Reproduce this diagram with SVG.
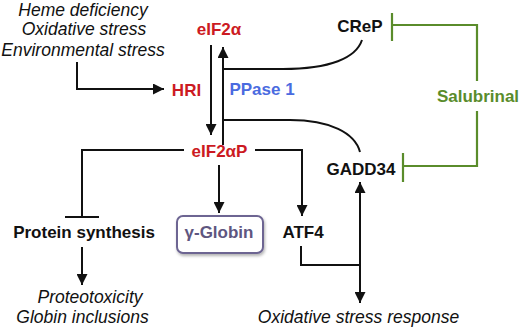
<svg xmlns="http://www.w3.org/2000/svg" width="520" height="328" viewBox="0 0 520 328">
<style>
.it{font-family:"Liberation Sans",Arial,sans-serif;font-style:italic;font-size:17.5px;fill:#111;text-anchor:middle}
.b{font-family:"Liberation Sans",Arial,sans-serif;font-weight:bold;font-size:17px;text-anchor:middle}
.red{fill:#cc1a22}
.blk{fill:#111}
.ln{fill:none;stroke:#111;stroke-width:2}
.gr{fill:none;stroke:#5a8c2b;stroke-width:2.2}
</style>
<defs>
<marker id="ah" viewBox="0 0 10 10" refX="10" refY="5" markerWidth="11" markerHeight="11" markerUnits="userSpaceOnUse" orient="auto-start-reverse">
<path d="M0,0 L10,5 L0,10 z" fill="#111"/>
</marker>
<filter id="sh" x="-10%" y="-10%" width="130%" height="140%">
<feDropShadow dx="1" dy="2" stdDeviation="1.5" flood-color="#000" flood-opacity="0.3"/>
</filter>
</defs>
<g id="connectors">
<path class="ln" d="M77,62 V89 H164" marker-end="url(#ah)"/>
<path class="ln" d="M211,45 V135" marker-end="url(#ah)"/>
<path class="ln" d="M223,145 V47" marker-end="url(#ah)"/>
<path class="ln" d="M223,69 H283 C330,69 356,58 362,40"/>
<path class="ln" d="M223,120 H290 C330,120 355,133 360,152"/>
<path class="ln" d="M184,150 H82 V217"/>
<path class="ln" d="M65,217 H99"/>
<path class="ln" d="M255,150 H302 V216" marker-end="url(#ah)"/>
<path class="ln" d="M219,165 V213" marker-end="url(#ah)"/>
<path class="ln" d="M82,247 V285" marker-end="url(#ah)"/>
<path class="ln" d="M301,246 V265 H360"/>
<path class="ln" d="M360,182 V303" marker-start="url(#ah)" marker-end="url(#ah)"/>
<path class="gr" d="M392,13 V41 M392,25 H477 V81"/>
<path class="gr" d="M477,111 V166 H403 M403,153 V182"/>
</g>
<g id="stress"><text class="it" x="83" y="15.5">Heme deficiency</text><text class="it" x="84" y="35">Oxidative stress</text><text class="it" x="83" y="55.5">Environmental stress</text></g>
<g id="HRI"><text class="b red" x="186.5" y="96">HRI</text></g>
<g id="eIF2a"><text class="b red" x="219" y="35">eIF2α</text></g>
<g id="eIF2aP"><text class="b red" x="219.5" y="157">eIF2αP</text></g>
<g id="PPase1"><text class="b" x="262" y="95" fill="#4a6be0">PPase 1</text></g>
<g id="CReP"><text class="b blk" x="360" y="32">CReP</text></g>
<g id="GADD34"><text class="b blk" x="361" y="175">GADD34</text></g>
<g id="Salubrinal"><text class="b" x="478" y="102" fill="#5a8c2b">Salubrinal</text></g>
<g id="ATF4"><text class="b blk" x="303" y="238">ATF4</text></g>
<g id="ProteinSynthesis"><text class="b blk" x="84" y="237.5">Protein synthesis</text></g>
<g id="gGlobin"><rect x="177" y="216" width="86" height="37" rx="6" fill="#fff" stroke="#6d6592" stroke-width="2" filter="url(#sh)"/><text class="b" x="219" y="237.5" fill="#5e5680">γ-Globin</text></g>
<g id="Proteotoxicity"><text class="it" x="90" y="303">Proteotoxicity</text><text class="it" x="82.5" y="323">Globin inclusions</text></g>
<g id="OxResponse"><text class="it" x="358.5" y="323">Oxidative stress response</text></g>
</svg>
